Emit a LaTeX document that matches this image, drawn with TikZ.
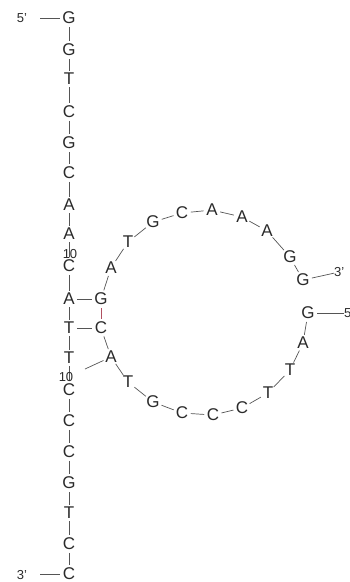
\documentclass[tikz,border=0pt]{standalone}
\usepackage{fontspec}
\setmainfont{Liberation Sans}
\definecolor{ink}{HTML}{2A2A2A}
\definecolor{bond}{HTML}{555555}
\definecolor{redbond}{HTML}{B05060}
\begin{document}
\begin{tikzpicture}[x=1pt,y=-1pt,
  base/.style={circle,inner sep=0pt,minimum size=16pt,text=ink,font=\fontsize{17}{17}\selectfont},
  endlbl/.style={inner sep=0pt,text=ink,font=\fontsize{13}{13}\selectfont},
  numlbl/.style={inner sep=0pt,text=ink,font=\fontsize{13}{13}\selectfont},
  bnd/.style={draw=bond,line width=0.7pt},
  rbnd/.style={draw=redbond,line width=0.8pt}]
\useasboundingbox (0,0) rectangle (350,582);
\clip (0,0) rectangle (350,582);
% vertical strand
\foreach \n/\l/\y in {1/G/18,2/G/50,3/T/79,4/C/112,5/G/143,6/C/173,7/A/205,8/A/234,9/C/266,10/A/299,11/T/328,12/T/358,13/C/390,14/C/421,15/C/452,16/G/483,17/T/513,18/C/544,19/C/574}
  \node[base] (v\n) at (69,\y) {\l};
\foreach \a/\b in {1/2,2/3,3/4,4/5,5/6,6/7,7/8,8/9,9/10,10/11,11/12,12/13,13/14,14/15,15/16,16/17,17/18,18/19}
  \draw[bnd] (v\a) -- (v\b);
\node[endlbl] (p5) at (22,18) {5’};
\node[endlbl] (p3) at (22,575) {3’};
\coordinate (p5e) at (40,18);
\coordinate (p3e) at (40,574);
\draw[bnd] (p5e) -- (v1);
\draw[bnd] (p3e) -- (v19);
\node[numlbl] (n1) at (70,254) {10};
\node[numlbl] (n2) at (66,377) {10};
% upper loop
\foreach \n/\l/\x/\y in {1/G/101/299,2/A/111/268,3/T/128/242,4/G/153/222,5/C/182/213,6/A/212/210,7/A/242/217,8/A/267/231,9/G/290/257,10/G/303/280}
  \node[base] (u\n) at (\x,\y) {\l};
\foreach \a/\b in {1/2,2/3,3/4,4/5,5/6,6/7,7/8,8/9,9/10}
  \draw[bnd] (u\a) -- (u\b);
% lower loop
\foreach \n/\l/\x/\y in {1/C/101/328,2/A/111/357,3/T/128/382,4/G/153/402,5/C/182/413,6/C/213/415,7/C/242/408,8/T/268/393,9/T/290/370,10/A/303/343,11/G/308/313}
  \node[base] (w\n) at (\x,\y) {\l};
\foreach \a/\b in {1/2,2/3,3/4,4/5,5/6,6/7,7/8,8/9,9/10,10/11}
  \draw[bnd] (w\a) -- (w\b);
% ends of loop
\node[endlbl,anchor=west] (q3) at (334,272) {3’};
\node[endlbl,anchor=west] (q5) at (344,313) {5’};
\draw[bnd] (u10) -- (q3);
\draw[bnd] (w11) -- (q5);
% pairing
\draw[bnd] (v10) -- (u1);
\draw[bnd] (v11) -- (w1);
\draw[rbnd] (u1) -- (w1);
\coordinate (tail) at (85,369);
\draw[bnd] (w2) -- (tail);
\end{tikzpicture}
\end{document}
